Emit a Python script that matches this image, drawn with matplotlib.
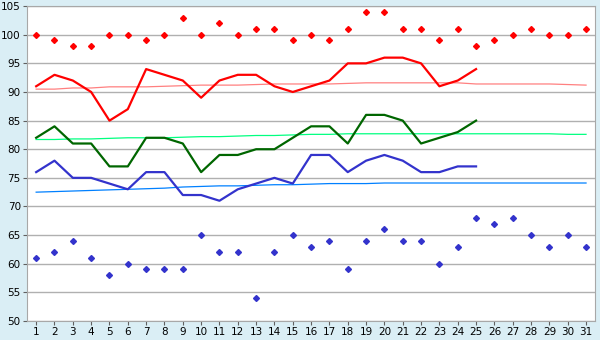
import matplotlib
matplotlib.use("Agg")
import matplotlib.pyplot as plt

days = list(range(1, 32))

record_high = [100, 99, 98, 98, 100, 100, 99, 100, 103, 100, 102, 100, 101, 101, 99, 100,
               99, 101, 104, 104, 101, 101, 99, 101, 98, 99, 100, 101, 100, 100, 101]
record_low = [61, 62, 64, 61, 58, 60, 59, 59, 59, 65, 62, 62, 54, 62, 65, 63,
              64, 59, 64, 66, 64, 64, 60, 63, 68, 67, 68, 65, 63, 65, 63]

high = [91, 93, 92, 90, 85, 87, 94, 93, 92, 89, 92, 93, 93, 91, 90, 91,
        92, 95, 95, 96, 96, 95, 91, 92, 94]
mean = [82, 84, 81, 81, 77, 77, 82, 82, 81, 76, 79, 79, 80, 80, 82, 84,
        84, 81, 86, 86, 85, 81, 82, 83, 85]
low = [76, 78, 75, 75, 74, 73, 76, 76, 72, 72, 71, 73, 74, 75, 74, 79,
       79, 76, 78, 79, 78, 76, 76, 77, 77]

normal_high = [90.5, 90.5, 90.7, 90.7, 90.9, 90.9, 90.9, 91.0, 91.1, 91.2, 91.2, 91.2,
               91.3, 91.4, 91.4, 91.4, 91.4, 91.5, 91.6, 91.6, 91.6, 91.6, 91.6, 91.6,
               91.4, 91.4, 91.4, 91.4, 91.4, 91.3, 91.2]
normal_mean = [81.7, 81.7, 81.8, 81.8, 81.9, 82.0, 82.0, 82.0, 82.1, 82.2, 82.2, 82.3,
               82.4, 82.4, 82.5, 82.6, 82.6, 82.7, 82.7, 82.7, 82.7, 82.7, 82.7, 82.7,
               82.7, 82.7, 82.7, 82.7, 82.7, 82.6, 82.6]
normal_low = [72.5, 72.6, 72.7, 72.8, 72.9, 73.0, 73.1, 73.2, 73.4, 73.5, 73.6, 73.6,
              73.7, 73.8, 73.8, 73.9, 74.0, 74.0, 74.0, 74.1, 74.1, 74.1, 74.1, 74.1,
              74.1, 74.1, 74.1, 74.1, 74.1, 74.1, 74.1]

bg = '#daeef5'
fig = plt.figure(figsize=(6, 3.4), dpi=100, facecolor=bg)
ax = fig.add_axes([0.045, 0.056, 0.947, 0.926])
ax.set_facecolor('white')

ax.plot(days, normal_high, color='#ff8080', linewidth=0.9)
ax.plot(days, normal_mean, color='#00ff80', linewidth=0.9)
ax.plot(days, normal_low, color='#0080ff', linewidth=0.9)

n = len(high)
ax.plot(days[:n], high, color='#ff0000', linewidth=1.6)
ax.plot(days[:n], mean, color='#006600', linewidth=1.6)
ax.plot(days[:n], low, color='#3333cc', linewidth=1.6)

ax.plot(days, record_high, linestyle='none', marker='D', markersize=3, color='#ff0000')
ax.plot(days, record_low, linestyle='none', marker='D', markersize=3, color='#3333cc')

ax.set_xlim(0.5, 31.5)
ax.set_ylim(50, 105)
ax.set_xticks(days)
ax.set_yticks(range(50, 106, 5))
ax.yaxis.grid(True, color='#b0b0b0', linewidth=1)
ax.set_axisbelow(True)

for s in ax.spines.values():
    s.set_color('#a8a8a8')
ax.tick_params(axis='both', labelsize=7.5, color='#606060', length=3, pad=1.5)

plt.savefig('out.png', dpi=100, facecolor=bg)
plt.close(fig)
